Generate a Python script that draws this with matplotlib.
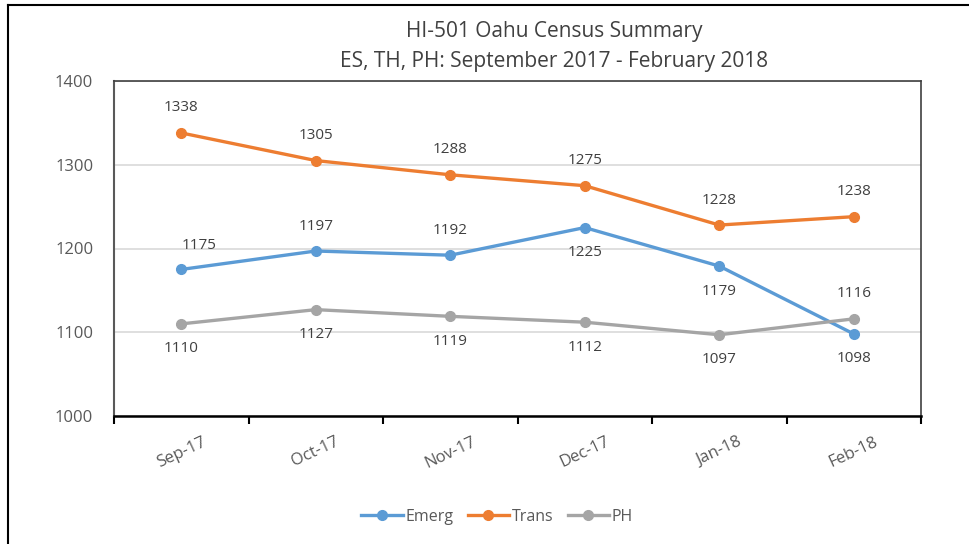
import matplotlib.pyplot as plt
from matplotlib.lines import Line2D

plt.rcParams['font.family'] = ['Open Sans', 'DejaVu Sans']

months = ['Sep-17', 'Oct-17', 'Nov-17', 'Dec-17', 'Jan-18', 'Feb-18']
emerg = [1175, 1197, 1192, 1225, 1179, 1098]
trans = [1338, 1305, 1288, 1275, 1228, 1238]
ph = [1110, 1127, 1119, 1112, 1097, 1116]

# label side per point: 1 = above, -1 = below
emerg_side = [1, 1, 1, -1, -1, -1]
trans_side = [1, 1, 1, 1, 1, 1]
ph_side = [-1, -1, -1, -1, -1, 1]

fig = plt.figure(figsize=(9.69, 5.44), dpi=100)
ax = fig.add_axes([114 / 969, 1 - 416 / 544, (921 - 114) / 969, (416 - 81) / 544])

# outer chart border (top and left edge visible)
fig.add_artist(Line2D([8 / 969, 1.0], [1 - 5 / 544, 1 - 5 / 544], transform=fig.transFigure,
                      color='black', linewidth=1.5))
fig.add_artist(Line2D([8 / 969, 8 / 969], [0, 1 - 5 / 544], transform=fig.transFigure,
                      color='black', linewidth=1.5))

x = list(range(len(months)))
series = [
    ('Emerg', emerg, '#5B9BD5', emerg_side),
    ('Trans', trans, '#ED7D31', trans_side),
    ('PH', ph, '#A5A5A5', ph_side),
]
for name, vals, col, sides in series:
    ax.plot(x, vals, color=col, linewidth=2.4, marker='o', markersize=7,
            label=name, zorder=3)
    for xi, v, s in zip(x, vals, sides):
        dx = 13 if (name == 'Emerg' and xi == 0) else 0  # label nudged right in original
        dy = 17 if (name == 'Emerg' and xi == 0) else 18
        ax.annotate(str(v), (xi, v), xytext=(dx, dy * s), textcoords='offset points',
                    ha='center', va='center', fontsize=11, color='#404040')

ax.set_xlim(-0.5, 5.5)
ax.set_ylim(1000, 1400)
ax.set_yticks([1000, 1100, 1200, 1300, 1400])
ax.yaxis.grid(True, color='#D9D9D9', linewidth=1.2)
ax.set_axisbelow(True)

ax.set_xticks(x)
ax.set_xticklabels(months, rotation=25, fontsize=12, color='#595959')
ax.set_xticks([i - 0.5 for i in range(len(months) + 1)], minor=True)
ax.tick_params(axis='x', which='major', length=0, pad=13)
ax.tick_params(axis='x', which='minor', length=6, width=1.5, direction='out', color='black')
ax.tick_params(axis='y', length=0, labelsize=12, labelcolor='#595959', pad=15)

for sp in ['top', 'right']:
    ax.spines[sp].set_color('#404040')
    ax.spines[sp].set_linewidth(1.2)
ax.spines['left'].set_color('#595959')
ax.spines['left'].set_linewidth(1.5)
ax.spines['bottom'].set_color('black')
ax.spines['bottom'].set_linewidth(1.8)

fig.text(554 / 969, 1 - 31 / 544, 'HI-501 Oahu Census Summary', ha='center', va='center',
         fontsize=15, color='#404040')
fig.text(554 / 969, 1 - 61 / 544, 'ES, TH, PH: September 2017 - February 2018', ha='center',
         va='center', fontsize=15, color='#404040')

fig.legend(loc='center', bbox_to_anchor=(497 / 969, 1 - 517 / 544), ncol=3, frameon=False,
           fontsize=11.5, handlelength=2.6, handletextpad=0.15, columnspacing=0.9,
           labelcolor='#595959')

fig.savefig('out.png', dpi=100)
